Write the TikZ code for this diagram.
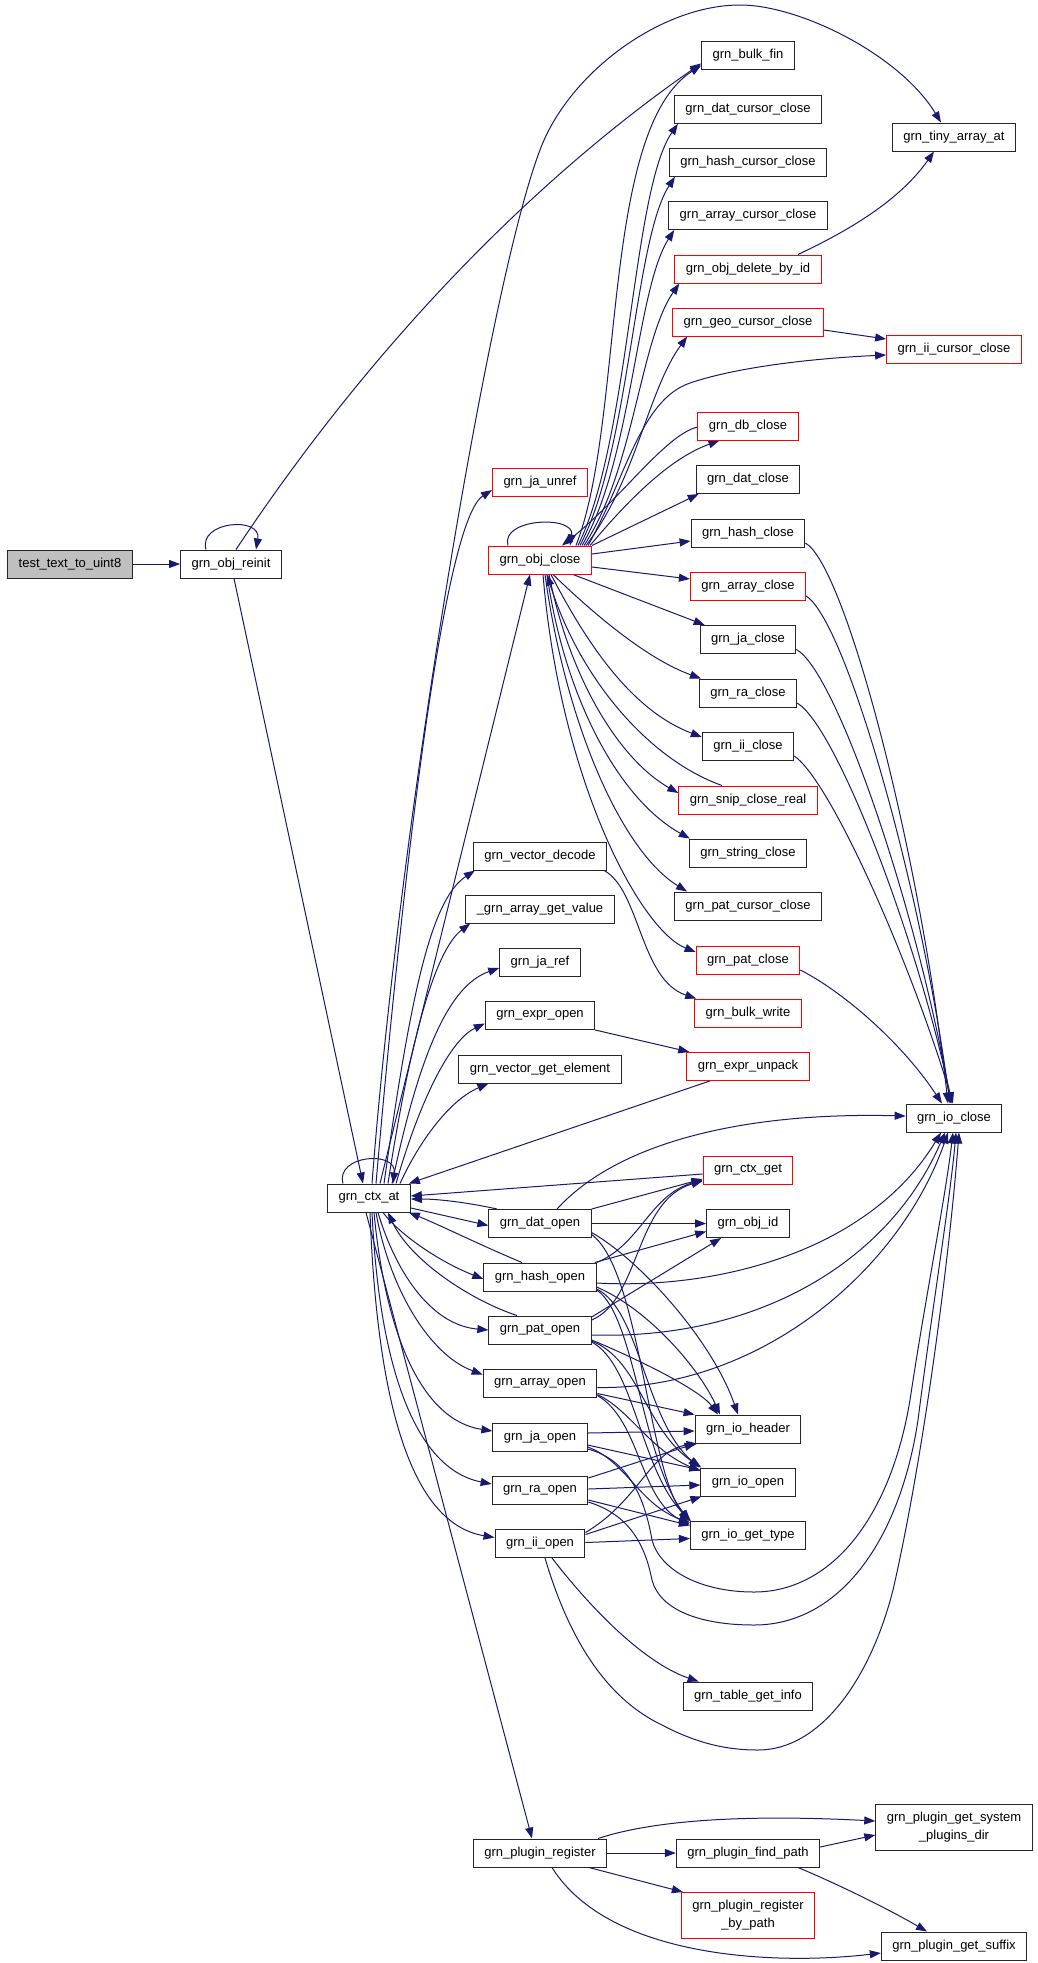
\documentclass[tikz,border=0pt]{standalone}
\usepackage{fontspec}
\newfontfamily\dxfont{Liberation Sans}
\usetikzlibrary{arrows.meta,calc}
\definecolor{edgec}{HTML}{191970}
\definecolor{boxgray}{HTML}{BFBFBF}
\pgfdeclarelayer{bg}
\pgfsetlayers{bg,main}
\begin{document}
\begin{tikzpicture}[x=1pt,y=-1pt,
  fn/.style={draw=black!85, line width=1pt, fill=white, inner xsep=11pt, inner ysep=0pt, minimum height=28pt, font=\dxfont\fontsize{13}{18}\selectfont},
  fnred/.style={fn, draw=red},
  fntwo/.style={minimum height=46pt, align=center},
  cedge/.style={draw=edgec, line width=1pt, -{Triangle[length=11pt,width=8pt]}}]
\useasboundingbox (0,0) rectangle (1037,1963);
% left part
\node[fn, fill=boxgray] (test) at (70,564) {test\_text\_to\_uint8};
\node[fn] (reinit) at (231,564) {grn\_obj\_reinit};
\node[fn] (ctxat) at (369,1198) {grn\_ctx\_at};
% middle column
\node[fnred] (jaunref) at (540,482) {grn\_ja\_unref};
\node[fnred] (objclose) at (540,560) {grn\_obj\_close};
\node[fn] (vecdec) at (540,856) {grn\_vector\_decode};
\node[fn] (arrget) at (540,909) {\_grn\_array\_get\_value};
\node[fn] (jaref) at (540,962) {grn\_ja\_ref};
\node[fn] (expropen) at (540,1015.5) {grn\_expr\_open};
\node[fn] (vecget) at (540,1069) {grn\_vector\_get\_element};
\node[fn] (datopen) at (540,1223.5) {grn\_dat\_open};
\node[fn] (hashopen) at (540,1277) {grn\_hash\_open};
\node[fn] (patopen) at (540,1330) {grn\_pat\_open};
\node[fn] (arropen) at (540,1383.5) {grn\_array\_open};
\node[fn] (jaopen) at (540,1437) {grn\_ja\_open};
\node[fn] (raopen) at (540,1490) {grn\_ra\_open};
\node[fn] (iiopen) at (540,1543.5) {grn\_ii\_open};
\node[fn] (plugreg) at (540,1853) {grn\_plugin\_register};
% right column
\node[fn] (bulkfin) at (748,55.5) {grn\_bulk\_fin};
\node[fn] (datcur) at (748,109.3) {grn\_dat\_cursor\_close};
\node[fn] (hashcur) at (748,162.2) {grn\_hash\_cursor\_close};
\node[fn] (arrcur) at (748,215.5) {grn\_array\_cursor\_close};
\node[fnred] (delbyid) at (748,269) {grn\_obj\_delete\_by\_id};
\node[fnred] (geocur) at (748,322) {grn\_geo\_cursor\_close};
\node[fnred] (dbclose) at (748,426) {grn\_db\_close};
\node[fn] (datclose) at (748,479.5) {grn\_dat\_close};
\node[fn] (hashclose) at (748,533) {grn\_hash\_close};
\node[fnred] (arrclose) at (748,586) {grn\_array\_close};
\node[fn] (jaclose) at (748,639.5) {grn\_ja\_close};
\node[fn] (raclose) at (748,693) {grn\_ra\_close};
\node[fn] (iiclose) at (748,746) {grn\_ii\_close};
\node[fnred] (snip) at (748,800) {grn\_snip\_close\_real};
\node[fn] (strclose) at (748,853) {grn\_string\_close};
\node[fn] (patcur) at (748,906) {grn\_pat\_cursor\_close};
\node[fnred] (patclose) at (748,960) {grn\_pat\_close};
\node[fnred] (bulkwrite) at (748,1013) {grn\_bulk\_write};
\node[fnred] (exprunpack) at (748,1066.4) {grn\_expr\_unpack};
\node[fnred] (ctxget) at (748,1170) {grn\_ctx\_get};
\node[fn] (objid) at (748,1223.5) {grn\_obj\_id};
\node[fn] (ioheader) at (748,1429) {grn\_io\_header};
\node[fn] (ioopen) at (748,1482) {grn\_io\_open};
\node[fn] (iogettype) at (748,1535.5) {grn\_io\_get\_type};
\node[fn] (tableinfo) at (748,1696) {grn\_table\_get\_info};
\node[fn] (findpath) at (748,1853) {grn\_plugin\_find\_path};
\node[fnred, fntwo] (regbypath) at (748,1915.5) {grn\_plugin\_register\\\_by\_path};
% far right column
\node[fn] (tinyarray) at (954,137) {grn\_tiny\_array\_at};
\node[fnred] (iicursor) at (954,349) {grn\_ii\_cursor\_close};
\node[fn] (ioclose) at (954,1118) {grn\_io\_close};
\node[fn, fntwo] (sysplug) at (954,1827) {grn\_plugin\_get\_system\\\_plugins\_dir};
\node[fn] (suffix) at (954,1946) {grn\_plugin\_get\_suffix};

\begin{pgfonlayer}{bg}
\draw[cedge] (test) -- (reinit);
\draw[cedge] ([xshift=-25pt]reinit.north) .. controls (198,521) and (262,516) .. ([xshift=25pt]reinit.north);
\draw[cedge] ([xshift=5pt]reinit.north) .. controls (386,324) and (552,167) .. ([yshift=-8pt]bulkfin.west);
\draw[cedge] ([xshift=3pt]reinit.south) -- ([xshift=-6pt]ctxat.north);
% ctx_at outgoing upward
\draw[cedge] ([xshift=-26pt]ctxat.north) .. controls (335,1155) and (397,1150) .. ([xshift=24pt]ctxat.north);
\draw[cedge] ([xshift=3pt]ctxat.north) .. controls (400,820) and (490,280) .. (540,150) .. controls (568,74) and (660,5) .. (740,5) .. controls (800,5) and (900,55) .. ([xshift=-13pt]tinyarray.north);
\draw[cedge] ([xshift=7pt]ctxat.north) .. controls (405,850) and (445,520) .. ([yshift=-8pt]jaunref.west);
\draw[cedge] ([xshift=11pt]ctxat.north) -- ([xshift=-10pt]objclose.south);
\draw[cedge] ([xshift=15pt]ctxat.north) .. controls (410,1000) and (430,900) .. ([xshift=2pt]vecdec.south west);
\draw[cedge] ([xshift=19pt]ctxat.north) .. controls (410,1040) and (435,950) .. ([xshift=5pt]arrget.south west);
\draw[cedge] ([xshift=23pt]ctxat.north) .. controls (420,1050) and (450,985) .. ([yshift=-6pt]jaref.west);
\draw[cedge] ([xshift=27pt]ctxat.north) .. controls (420,1100) and (450,1040) .. ([yshift=-8pt]expropen.west);
\draw[cedge] ([xshift=31pt]ctxat.north) .. controls (420,1140) and (450,1100) .. ([xshift=30pt]vecget.south west);
% into ctx_at
\draw[cedge] ([xshift=-38pt]exprunpack.south) -- ([xshift=-2pt]ctxat.north east);
\draw[cedge] ([yshift=-4pt]ctxget.west) -- ([yshift=2pt]ctxat.east);
\draw[cedge] ([xshift=-43pt]datopen.north) .. controls (470,1203) and (440,1199) .. ([yshift=-1pt]ctxat.east);
\draw[cedge] ([yshift=-10pt]ctxat.east) -- ([yshift=-2pt]datopen.west);
\draw[cedge] ([xshift=-18pt]hashopen.north) .. controls (480,1245) and (440,1225) .. ([xshift=-2pt]ctxat.south east);
\draw[cedge] ([xshift=14pt]ctxat.south) .. controls (400,1235) and (440,1262) .. ([yshift=-2pt]hashopen.west);
\draw[cedge] ([xshift=-23pt]patopen.north) .. controls (470,1300) and (410,1260) .. ([xshift=19pt]ctxat.south);
\draw[cedge] ([xshift=9pt]ctxat.south) .. controls (395,1270) and (430,1325) .. (patopen.west);
\draw[cedge] ([xshift=7pt]ctxat.south) .. controls (390,1290) and (430,1355) .. ([yshift=9pt]arropen.west);
\draw[cedge] ([xshift=5pt]ctxat.south) .. controls (385,1330) and (420,1420) .. ([yshift=6pt]jaopen.west);
\draw[cedge] ([xshift=3pt]ctxat.south) .. controls (380,1380) and (420,1470) .. ([yshift=6pt]raopen.west);
\draw[cedge] ([xshift=1pt]ctxat.south) .. controls (378,1430) and (420,1525) .. ([yshift=6pt]iiopen.west);
\draw[cedge] ([xshift=-3pt]ctxat.south) -- ([xshift=-8pt]plugreg.north);
% grn_obj_close
\draw[cedge] ([xshift=-32pt]objclose.north) .. controls (500,518) and (575,515) .. ([xshift=30pt]objclose.north);
\draw[cedge] ([xshift=36pt]objclose.north) .. controls (625,420) and (600,130) .. ([yshift=-10pt]bulkfin.west);
\draw[cedge] ([xshift=38pt]objclose.north) .. controls (630,440) and (632,190) .. ([xshift=4pt]datcur.south west);
\draw[cedge] ([xshift=40pt]objclose.north) .. controls (630,450) and (634,240) .. ([xshift=6pt]hashcur.south west);
\draw[cedge] ([xshift=42pt]objclose.north) .. controls (632,460) and (636,290) .. ([xshift=6pt]arrcur.south west);
\draw[cedge] ([xshift=44pt]objclose.north) .. controls (634,470) and (640,340) .. ([xshift=5pt]delbyid.south west);
\draw[cedge] ([xshift=46pt]objclose.north) .. controls (636,480) and (648,390) .. ([xshift=15pt]geocur.south west);
\draw[cedge] ([xshift=48pt]objclose.north) .. controls (625,480) and (640,400) .. (690,383) .. controls (740,366) and (820,358) .. ([yshift=-6pt]iicursor.west);
\draw[cedge] ([xshift=50pt]objclose.north) .. controls (620,510) and (665,460) .. ([xshift=22pt]dbclose.south west);
\draw[cedge] ([yshift=-1pt]dbclose.west) .. controls (665,435) and (620,500) .. ([xshift=22pt]objclose.north);
\draw[cedge] (objclose.north east) -- ([xshift=3pt]datclose.south west);
\draw[cedge] ([yshift=6pt]objclose.east) -- ([yshift=-8pt]hashclose.west);
\draw[cedge] ([yshift=-7pt]objclose.east) -- ([yshift=7pt]arrclose.west);
\draw[cedge] ([xshift=33pt]objclose.south) -- ([xshift=5pt]jaclose.north west);
\draw[cedge] ([xshift=13pt]objclose.south) .. controls (600,620) and (650,660) .. ([xshift=2pt]raclose.north west);
\draw[cedge] ([xshift=11pt]objclose.south) .. controls (585,640) and (630,710) .. ([yshift=9pt]iiclose.west);
\draw[cedge] ([xshift=9pt]objclose.south) .. controls (570,680) and (620,760) .. ([yshift=7pt]snip.west);
\draw[cedge] ([xshift=-26pt]snip.north) .. controls (650,760) and (580,680) .. ([xshift=7pt]objclose.south);
\draw[cedge] ([xshift=7pt]objclose.south) .. controls (565,700) and (620,800) .. ([xshift=1pt]strclose.north west);
\draw[cedge] ([xshift=5pt]objclose.south) .. controls (565,720) and (620,850) .. ([xshift=13pt]patcur.north west);
\draw[cedge] ([xshift=3pt]objclose.south) .. controls (560,780) and (640,930) .. ([yshift=8pt]patclose.west);
% right column links
\draw[cedge] ([xshift=50pt]delbyid.north) .. controls (850,230) and (900,200) .. ([xshift=-20pt]tinyarray.south);
\draw[cedge] ([yshift=-8pt]geocur.east) -- ([yshift=10pt]iicursor.west);
\draw[cedge] ([yshift=-10pt]hashclose.east) .. controls (845,565) and (920,850) .. ([xshift=-6pt]ioclose.north);
\draw[cedge] ([yshift=-10pt]arrclose.east) .. controls (845,620) and (920,880) .. ([xshift=-4pt]ioclose.north);
\draw[cedge] ([yshift=-10pt]jaclose.east) .. controls (835,670) and (915,900) .. ([xshift=-3pt]ioclose.north);
\draw[cedge] ([yshift=-10pt]raclose.east) .. controls (835,725) and (915,930) .. ([xshift=-2pt]ioclose.north);
\draw[cedge] ([yshift=-10pt]iiclose.east) .. controls (830,780) and (910,960) .. ([xshift=-1pt]ioclose.north);
\draw[cedge] ([yshift=-10pt]patclose.east) .. controls (840,990) and (900,1040) .. ([xshift=-12pt]ioclose.north);
\draw[cedge] ([xshift=-3pt]vecdec.south east) .. controls (640,890) and (640,980) .. ([xshift=2pt]bulkwrite.north west);
\draw[cedge] (expropen.south east) -- ([xshift=3pt]exprunpack.north west);
% dat_open
\draw[cedge] ([xshift=17pt]datopen.north) .. controls (620,1140) and (750,1112) .. ([yshift=2pt]ioclose.west);
\draw[cedge] (datopen.north east) -- ([yshift=-9pt]ctxget.west);
\draw[cedge] (datopen) -- (objid);
\draw[cedge] ([yshift=-9pt]datopen.east) .. controls (640,1260) and (712,1340) .. ([xshift=-10pt]ioheader.north);
\draw[cedge] ([yshift=-11pt]datopen.east) .. controls (640,1270) and (648,1470) .. ([xshift=-1pt]iogettype.north west);
% hash_open
\draw[cedge] (hashopen.north east) .. controls (640,1245) and (650,1195) .. ([yshift=-10pt]ctxget.west);
\draw[cedge] ([xshift=-2pt]hashopen.north east) -- ([yshift=-8pt]objid.west);
\draw[cedge] ([yshift=-6pt]hashopen.east) .. controls (720,1290) and (870,1250) .. ([xshift=-13pt]ioclose.south);
\draw[cedge] ([yshift=-10pt]hashopen.east) .. controls (650,1310) and (700,1370) .. ([xshift=-28pt]ioheader.north);
\draw[cedge] ([yshift=-12pt]hashopen.east) .. controls (640,1310) and (645,1420) .. ([xshift=-1pt]ioopen.north west);
\draw[cedge] ([yshift=-13pt]hashopen.east) .. controls (635,1315) and (642,1460) .. (iogettype.north west);
% pat_open
\draw[cedge] ([yshift=10pt]patopen.east) .. controls (640,1300) and (635,1200) .. ([yshift=-11pt]ctxget.west);
\draw[cedge] ([yshift=13pt]patopen.east) -- ([xshift=15pt]objid.south west);
\draw[cedge] ([yshift=-5pt]patopen.east) .. controls (760,1340) and (890,1260) .. ([xshift=-9pt]ioclose.south);
\draw[cedge] ([yshift=-10pt]patopen.east) .. controls (640,1360) and (700,1390) .. ([xshift=-30pt]ioheader.north);
\draw[cedge] ([yshift=-11pt]patopen.east) .. controls (640,1360) and (645,1430) .. ([xshift=1pt]ioopen.north west);
\draw[cedge] ([yshift=-12pt]patopen.east) .. controls (635,1365) and (640,1470) .. ([xshift=1pt]iogettype.north west);
% array_open
\draw[cedge] ([yshift=-4pt]arropen.east) .. controls (760,1390) and (900,1270) .. ([xshift=-6pt]ioclose.south);
\draw[cedge] ([yshift=-10pt]arropen.east) -- (ioheader.north west);
\draw[cedge] ([yshift=-11pt]arropen.east) .. controls (630,1410) and (650,1450) .. ([yshift=11pt]ioopen.west);
\draw[cedge] ([yshift=-12pt]arropen.east) .. controls (640,1420) and (640,1500) .. ([yshift=11pt]iogettype.west);
% ja_open
\draw[cedge] ([yshift=4pt]jaopen.east) -- ([yshift=-2pt]ioheader.west);
\draw[cedge] ([yshift=-8pt]jaopen.east) -- ([yshift=12pt]ioopen.west);
\draw[cedge] ([yshift=-10pt]jaopen.east) .. controls (625,1460) and (640,1505) .. ([yshift=13pt]iogettype.west);
\draw[cedge] ([yshift=-12pt]jaopen.east) .. controls (630,1460) and (645,1500) .. (652,1540) .. controls (660,1570) and (700,1592) .. (754,1592) .. controls (830,1592) and (890,1520) .. (910,1400) .. controls (925,1300) and (945,1200) .. ([xshift=-1pt]ioclose.south);
% ra_open
\draw[cedge] ([yshift=12pt]raopen.east) -- ([xshift=1pt]ioheader.south west);
\draw[cedge] ([yshift=1pt]raopen.east) -- ([yshift=-3pt]ioopen.west);
\draw[cedge] ([yshift=-10pt]raopen.east) -- ([yshift=10pt]iogettype.west);
\draw[cedge] ([yshift=-12pt]raopen.east) .. controls (630,1515) and (645,1545) .. (652,1580) .. controls (660,1610) and (700,1625) .. (754,1625) .. controls (840,1625) and (900,1540) .. (918,1420) .. controls (932,1310) and (950,1200) .. ([xshift=2pt]ioclose.south);
% ii_open
\draw[cedge] ([yshift=11pt]iiopen.east) .. controls (640,1500) and (650,1450) .. ([xshift=3pt]ioheader.south west);
\draw[cedge] ([yshift=9pt]iiopen.east) -- ([xshift=1pt]ioopen.south west);
\draw[cedge] ([yshift=1pt]iiopen.east) -- ([yshift=-3pt]iogettype.west);
\draw[cedge] ([xshift=5pt]iiopen.south) .. controls (575,1660) and (620,1705) .. (662,1725) .. controls (700,1745) and (730,1750) .. (758,1750) .. controls (820,1750) and (870,1680) .. (893,1590) .. controls (925,1450) and (950,1250) .. ([xshift=5pt]ioclose.south);
\draw[cedge] ([xshift=12pt]iiopen.south) .. controls (600,1620) and (650,1665) .. ([xshift=16pt]tableinfo.north west);
% plugin
\draw[cedge] ([xshift=58pt]plugreg.north) .. controls (660,1818) and (760,1815) .. ([yshift=6pt]sysplug.west);
\draw[cedge] (plugreg) -- (findpath);
\draw[cedge] ([xshift=49pt]plugreg.south) -- ([xshift=2pt]regbypath.north west);
\draw[cedge] ([xshift=12pt]plugreg.south) .. controls (610,1960) and (780,1965) .. ([yshift=-7pt]suffix.west);
\draw[cedge] ([yshift=6pt]findpath.east) -- ([yshift=-8pt]sysplug.west);
\draw[cedge] ([xshift=50pt]findpath.south) .. controls (840,1885) and (890,1910) .. ([xshift=-27pt]suffix.north);
\end{pgfonlayer}
\end{tikzpicture}
\end{document}
